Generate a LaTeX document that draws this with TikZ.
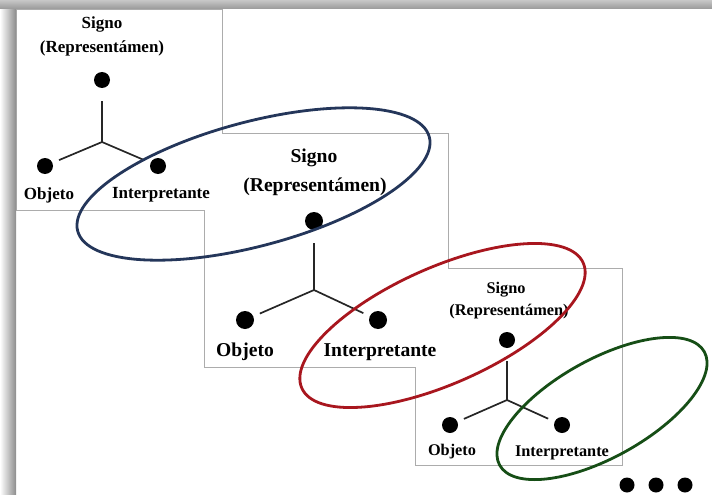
\documentclass[tikz,border=0pt]{standalone}
\usepackage{fontspec}
\setmainfont{Liberation Serif}
\definecolor{ovblue}{RGB}{36,54,90}
\definecolor{ovred}{RGB}{168,22,30}
\definecolor{ovgreen}{RGB}{22,78,22}
\definecolor{boxgray}{RGB}{172,172,172}

\begin{document}
\begin{tikzpicture}[%
      x=1pt, y=-1pt,
      every node/.style={inner sep=0pt},
      dot/.style={circle, fill=black, minimum size=16pt},
      bigdot/.style={dot, minimum size=18pt},
      small/.style={font=\bfseries\fontsize{16.3}{18}\selectfont},
      mid/.style={font=\bfseries\fontsize{17}{19}\selectfont},
      big/.style={font=\bfseries\fontsize{19.6}{22}\selectfont},
      stem/.style={line width=1.7pt, draw=black!85, shorten <=13pt},
      leg/.style={line width=1.7pt, draw=black!85, shorten >=7pt},
      oval/.style={line width=2.8pt}
    ]
    \useasboundingbox (0,0) rectangle (712,495);

    % outline of the three sheets
    \draw[boxgray, line width=0.9pt] (16,9) -- (222,9) -- (222,133) -- (448,133)
      -- (448,268) -- (622,268) -- (622,465) -- (415,465) -- (415,367)
      -- (204,367) -- (204,210) -- (16,210) -- cycle;

    % shadow of the frame
    \shade[left color=white, right color=black!45] (0,0) rectangle (16,495);
    \shade[top color=black!22, bottom color=black!40] (0,0) rectangle (712,9);

    % first triad
    \node [mid] (sa) at (102,24) {Signo};
    \node [mid] (ra) at (102,48) {(Representámen)};
    \node [dot] (s1) at (102,80) {};
    \coordinate (j1) at (102,142);
    \node [dot] (o1) at (45,166) {};
    \node [dot] (i1) at (158,166) {};
    \node [mid] (lo1) at (49,195) {Objeto};
    \node [mid] (li1) at (161,195) {Interpretante};

    % second triad
    \node [big] (sb) at (314,158) {Signo};
    \node [big] (rb) at (315,187) {(Representámen)};
    \node [bigdot] (s2) at (314,221) {};
    \coordinate (j2) at (314,290);
    \node [bigdot] (o2) at (245,320) {};
    \node [bigdot] (i2) at (378,320) {};
    \node [big] (lo2) at (245,352) {Objeto};
    \node [big] (li2) at (380,352) {Interpretante};

    % third triad
    \node [small] (sc) at (506,290) {Signo};
    \node [small] (rc) at (509,312) {(Representámen)};
    \node [dot] (s3) at (507,340) {};
    \coordinate (j3) at (507,400);
    \node [dot] (o3) at (450,425) {};
    \node [dot] (i3) at (562,425) {};
    \node [small] (lo3) at (452,452) {Objeto};
    \node [small] (li3) at (562,453) {Interpretante};

    \path
    (s1) edge[stem] (j1)
    (j1) edge[leg] (o1)
    (j1) edge[leg] (i1)
    (s2) edge[stem] (j2)
    (j2) edge[leg] (o2)
    (j2) edge[leg] (i2)
    (s3) edge[stem] (j3)
    (j3) edge[leg] (o3)
    (j3) edge[leg] (i3)
    ;

    % the interpretant becomes the next sign
    \draw[oval, ovblue, rotate around={15:(253.5,184)}] (253.5,184) ellipse [x radius=182, y radius=62];
    \draw[oval, ovred, rotate around={24:(442.5,325.5)}] (442.5,325.5) ellipse [x radius=154, y radius=58];
    \draw[oval, ovgreen, rotate around={29:(602,408.5)}] (602,408.5) ellipse [x radius=117, y radius=49];

    % and so on
    \node [dot, minimum size=15pt] (d1) at (627,485) {};
    \node [dot, minimum size=15pt] (d2) at (656,485) {};
    \node [dot, minimum size=15pt] (d3) at (685,485) {};
      \end{tikzpicture}
\end{document}
